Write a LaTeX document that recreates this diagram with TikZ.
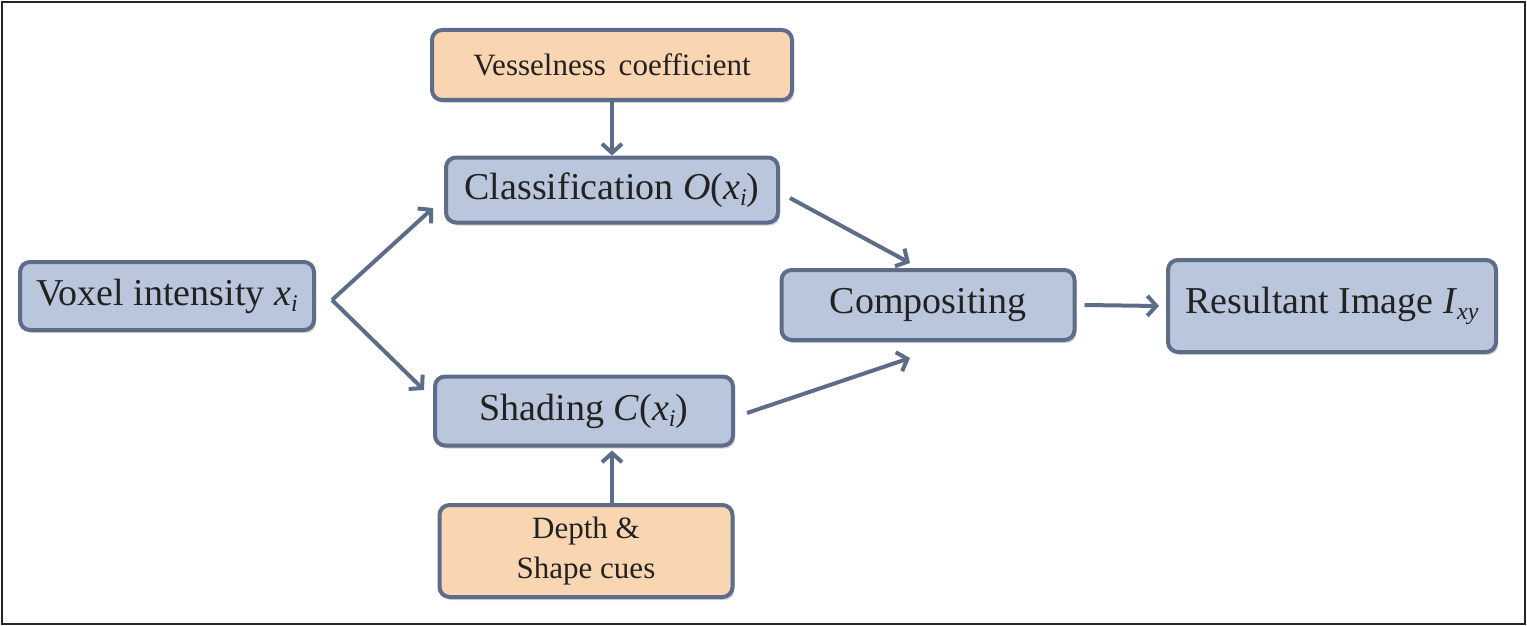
\documentclass[tikz,border=0pt]{standalone}
\usepackage{fontspec}
\setmainfont{Liberation Serif}
\usetikzlibrary{arrows.meta,shadows}
\definecolor{boxblue}{HTML}{B9C6DC}
\definecolor{boxorange}{HTML}{FAD5B2}
\definecolor{edgecol}{HTML}{5D6C89}
\definecolor{txtcol}{HTML}{222222}
\newcommand{\lowidx}[1]{\raisebox{-0.35ex}{\fontsize{24}{24}\selectfont\textit{#1}}}
\begin{document}
\begin{tikzpicture}[x=1pt,y=-1pt,
  basebox/.style={draw=edgecol, line width=4pt, rounded corners=10pt, align=center,
    text=txtcol, inner sep=0pt,
    drop shadow={opacity=0.35, shadow xshift=2pt, shadow yshift=-3pt}},
  bluebox/.style={basebox, fill=boxblue, font=\fontsize{38}{42}\selectfont},
  orangebox/.style={basebox, fill=boxorange, font=\fontsize{31}{40}\selectfont},
  arr/.style={draw=edgecol, line width=4pt, -{Straight Barb[length=9pt,width=20pt]}}]
\useasboundingbox (0,0) rectangle (1527,626);
\draw[line width=2pt, draw=black!85] (2,2) rectangle (1525,624);

\node[orangebox, minimum width=360pt, minimum height=70pt] (vessel) at (612,65) {Vesselness\, coefficient};
\node[bluebox, minimum width=332pt, minimum height=65pt] (class) at (612,190) {Classification \textit{O}(\textit{x}\lowidx{i})};
\node[bluebox, minimum width=294pt, minimum height=68pt] (voxel) at (167,296) {Voxel intensity \textit{x}\lowidx{i}};
\node[bluebox, minimum width=298pt, minimum height=69pt] (shade) at (584,411) {Shading \textit{C}(\textit{x}\lowidx{i})};
\node[orangebox, minimum width=293pt, minimum height=92pt] (depth) at (586,551) {Depth \&\\Shape cues};
\node[bluebox, minimum width=293pt, minimum height=70pt] (comp) at (928,305) {Compositing};
\node[bluebox, minimum width=328pt, minimum height=92pt] (result) at (1332,306) {Resultant Image \textit{I}\lowidx{xy}};

\coordinate (fork) at (332,300);
\coordinate (classin) at (433,208);
\coordinate (shadein) at (424,390);
\coordinate (classout) at (790,198);
\coordinate (compinA) at (910,263);
\coordinate (shadeout) at (747,413);
\coordinate (compinB) at (910,358);

\draw[arr] (vessel.south) -- (class.north);
\draw[arr] (fork) -- (classin);
\draw[arr] (fork) -- (shadein);
\draw[arr] (classout) -- (compinA);
\draw[arr] (shadeout) -- (compinB);
\draw[arr] ([xshift=8pt]comp.east) -- ([xshift=-7pt]result.west);
\draw[arr] ([xshift=26pt]depth.north) -- ([xshift=28pt,yshift=-3pt]shade.south);
\end{tikzpicture}
\end{document}
